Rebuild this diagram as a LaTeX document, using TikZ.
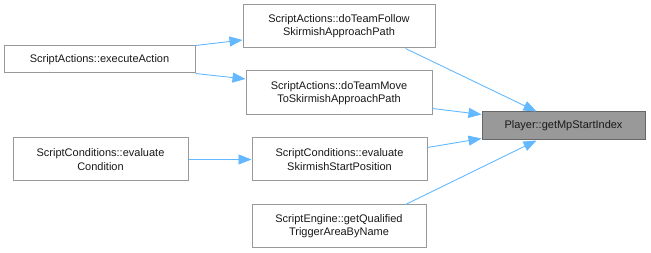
\documentclass[tikz,border=0pt]{standalone}
\usepackage{fontspec}
\setmainfont{Liberation Sans}
\usetikzlibrary{arrows.meta}
\definecolor{edgeblue}{HTML}{63B8FF}
\definecolor{boxline}{HTML}{999999}
\definecolor{rootfill}{HTML}{999999}
\definecolor{rootline}{HTML}{666666}
\begin{document}
\begin{tikzpicture}[x=1pt,y=-1pt,
  fn/.style={draw=boxline,fill=white,line width=1pt,inner sep=0pt,align=center,
    font=\fontsize{11}{13.2}\selectfont,text=black!90},
  root/.style={fn,draw=rootline,fill=rootfill},
  call/.style={draw=edgeblue,line width=0.9pt,-{Triangle[length=13pt,width=10pt]}}]
\useasboundingbox (0,0) rectangle (651,253);
% callers and callee, placed by their box corners
\node[fn,minimum width=191pt,minimum height=27pt] (exec) at (99.5,59.5) {ScriptActions::executeAction};
\node[fn,minimum width=192pt,minimum height=43pt] (follow) at (339,26.5) {ScriptActions::doTeamFollow\\SkirmishApproachPath};
\node[fn,minimum width=186pt,minimum height=44pt] (move) at (339,93) {ScriptActions::doTeamMove\\ToSkirmishApproachPath};
\node[fn,minimum width=175pt,minimum height=43pt] (cond) at (100.5,159.5) {ScriptConditions::evaluate\\Condition};
\node[fn,minimum width=175pt,minimum height=43pt] (skirm) at (339.5,159.5) {ScriptConditions::evaluate\\SkirmishStartPosition};
\node[fn,minimum width=174pt,minimum height=43pt] (qual) at (339,226.5) {ScriptEngine::getQualified\\TriggerAreaByName};
\node[root,minimum width=163pt,minimum height=28pt] (player) at (563.5,126) {Player::getMpStartIndex};
% call edges
\draw[call] (exec.north east) -- (follow.west |- 0,40);
\draw[call] (exec.south east) -- (move.west |- 0,79);
\draw[call] (cond) -- (skirm);
\draw[call] ([xshift=-30pt]follow.south east) -- ([xshift=55pt]player.north west);
\draw[call] ([yshift=7pt]move.south east) -- ([yshift=-3pt]player.north west);
\draw[call] ([yshift=-10pt]skirm.north east) -- ([yshift=2pt]player.south west);
\draw[call] ([xshift=-21pt]qual.north east) -- ([xshift=55pt]player.south west);
\end{tikzpicture}
\end{document}
